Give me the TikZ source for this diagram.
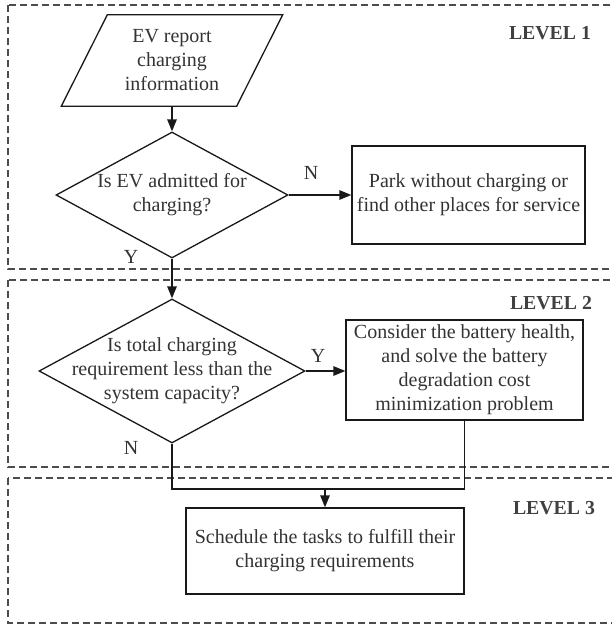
\documentclass[tikz,border=0pt]{standalone}
\usepackage{fontspec}
\setmainfont{Liberation Serif}
\usetikzlibrary{arrows.meta,shapes.geometric}
\begin{document}
\begin{tikzpicture}[x=1pt,y=-1pt,
  txt/.style={font=\fontsize{20}{24}\selectfont, text=black!80, align=center, inner sep=0pt},
  lvl/.style={font=\fontsize{19.8}{23.5}\selectfont\bfseries, text=black!75, inner sep=0pt},
  frame/.style={draw=black!70, line width=1.2pt, dash pattern=on 7pt off 4pt},
  boxnode/.style={txt, draw=black!90, line width=1.3pt, rectangle},
  dia/.style={draw=black!90, line width=1.3pt, diamond, inner sep=0pt},
  line/.style={draw=black!90, line width=1.3pt},
  arr/.style={line, -{Triangle[length=12pt,width=9.5pt]}}
]
\useasboundingbox (0,0) rectangle (612,629);
\fill[white] (0,0) rectangle (612,629);
\clip (0,0) rectangle (612,629);

% level frames
\draw[frame] (8,5) rectangle (650,269);
\draw[frame] (8,280) rectangle (650,467);
\draw[frame] (8,478) rectangle (650,623);

\node[lvl] (l1) at (550,33) {LEVEL 1};
\node[lvl] (l2) at (551,303) {LEVEL 2};
\node[lvl] (l3) at (554,508) {LEVEL 3};

% input parallelogram
\node[txt, minimum width=175, minimum height=91] (ev) at (172,60.5) {EV report\\charging\\information};
\draw[line] ([xshift=23pt]ev.north west) -- ([xshift=23pt]ev.north east)
  -- ([xshift=-23pt]ev.south east) -- ([xshift=-23pt]ev.south west) -- cycle;

% decision 1
\node[dia, minimum width=232, minimum height=126] (d1) at (172,195) {};
\node[txt] (d1t) at (d1) {Is EV admitted for\\charging?};
\node[boxnode, minimum width=233, minimum height=98] (park) at (468.5,195) {Park without charging or\\find other places for service};

% decision 2
\node[dia, minimum width=266, minimum height=144] (d2) at (172,371) {};
\node[txt] (d2t) at (d2) {Is total charging\\requirement less than the\\system capacity?};
\node[boxnode, minimum width=237, minimum height=100] (b2) at (464.5,370) {Consider the battery health,\\and solve the battery\\degradation cost\\minimization problem};

% schedule
\node[boxnode, minimum width=278, minimum height=86] (b3) at (325,551) {Schedule the tasks to fulfill their\\charging requirements};

% labels
\node[txt] (n1) at (311,173) {N};
\node[txt] (y1) at (131,257) {Y};
\node[txt] (y2) at (318,356) {Y};
\node[txt] (n2) at (131,448) {N};

% connectors
\draw[arr] (ev.south) -- (d1.north);
\draw[arr] (d1.east) -- (park.west);
\draw[arr] (d1.south) -- (d2.north);
\draw[arr] (d2.east) -- (d2.east -| b2.west);
\coordinate (j) at (325,489);
\draw[line] (d2.south) |- (j) -| (b2.south);
\draw[arr] (j) -- (b3.north);
\end{tikzpicture}
\end{document}
